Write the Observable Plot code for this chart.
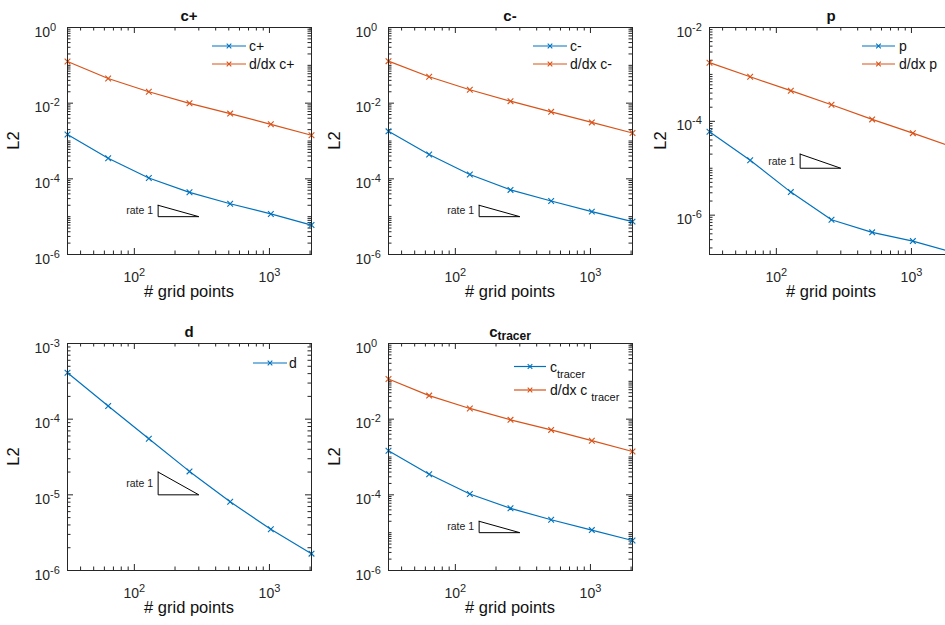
<!DOCTYPE html>
<html><head><meta charset="utf-8">
<script src="https://cdn.jsdelivr.net/npm/d3@7"></script>
<script src="https://cdn.jsdelivr.net/npm/@observablehq/plot@0.6"></script>
<style>
html,body{margin:0;padding:0;background:#fff;overflow:hidden;}
#fig{position:relative;width:945px;height:625px;overflow:hidden;background:#fff;}
#fig svg{position:absolute;}
</style></head><body><div id="fig"></div>
<script>
// ---- data ----
const gridPoints = [32, 64, 128, 256, 512, 1024, 2048];

const cPlusErr     = [1.48e-3, 3.5e-4, 1.05e-4, 4.4e-5, 2.2e-5, 1.18e-5, 6.0e-6];
const cPlusDxErr   = [0.126, 0.045, 0.020, 0.0099, 0.0053, 0.00276, 0.00142];
const cMinusErr    = [1.8e-3, 4.4e-4, 1.3e-4, 5.1e-5, 2.6e-5, 1.36e-5, 7.4e-6];
const cMinusDxErr  = [0.129, 0.050, 0.0226, 0.0113, 0.0059, 0.0031, 0.00163];
const pErr         = [6.0e-5, 1.48e-5, 3.1e-6, 8.0e-7, 4.3e-7, 2.8e-7, 1.6e-7];
const pDxErr       = [1.78e-3, 8.9e-4, 4.5e-4, 2.26e-4, 1.1e-4, 5.6e-5, 2.8e-5];
const dErr         = [4.1e-4, 1.49e-4, 5.5e-5, 2.04e-5, 8.1e-6, 3.5e-6, 1.67e-6];
const cTracerErr   = [1.47e-3, 3.5e-4, 1.05e-4, 4.4e-5, 2.2e-5, 1.17e-5, 6.2e-6];
const cTracerDxErr = [0.115, 0.042, 0.0192, 0.0096, 0.0052, 0.0027, 0.0014];

// rate-1 reference triangle (closed path)
const rateX = [150, 300, 150, 150];
const rateY = [2e-5, 1e-5, 1e-5, 2e-5];
const rateLabel = "rate 1";

// ticks
const xMajorTicks = [100, 1000];
const xMinorTicks = [40, 50, 60, 70, 80, 90, 200, 300, 400, 500, 600, 700, 800, 900, 2000];
const yLabelsWide = [1, 1e-2, 1e-4, 1e-6];
const yLabelsP = [1e-2, 1e-4, 1e-6];
const yLabelsD = [1e-3, 1e-4, 1e-5, 1e-6];

const BLUE = "#0072BD", ORANGE = "#D95319", AX = "#262626";
const FONT = "'Liberation Sans', Arial, Helvetica, sans-serif";

const panels = [
  {title: ["c+"], left: 0, top: 0, yDomain: [1e-6, 1], yLabels: yLabelsWide, ylabOff: 48,
   series: [{label: ["c+"], values: cPlusErr, color: BLUE}, {label: ["d/dx c+"], values: cPlusDxErr, color: ORANGE}],
   legend: {x0: 145, x1: 179, tx: 182, ys: [19, 37]}},
  {title: ["c-"], left: 321, top: 0, yDomain: [1e-6, 1], yLabels: yLabelsWide, ylabOff: 48,
   series: [{label: ["c-"], values: cMinusErr, color: BLUE}, {label: ["d/dx c-"], values: cMinusDxErr, color: ORANGE}],
   legend: {x0: 145, x1: 179, tx: 182, ys: [19, 37]}},
  {title: ["p"], left: 642, top: 0, yDomain: [1.45e-7, 1e-2], yLabels: yLabelsP, ylabOff: 43,
   series: [{label: ["p"], values: pErr, color: BLUE}, {label: ["d/dx p"], values: pDxErr, color: ORANGE}],
   legend: {x0: 153, x1: 186, tx: 190, ys: [19, 37]}},
  {title: ["d"], left: 0, top: 316, yDomain: [1e-6, 1e-3], yLabels: yLabelsD, ylabOff: 48,
   series: [{label: ["d"], values: dErr, color: BLUE}],
   legend: {x0: 186, x1: 220, tx: 222, ys: [20]}},
  {title: ["c", "tracer"], left: 321, top: 316, yDomain: [1e-6, 1], yLabels: yLabelsWide, ylabOff: 48,
   series: [{label: ["c", "tracer"], values: cTracerErr, color: BLUE}, {label: ["d/dx c ", "tracer"], values: cTracerDxErr, color: ORANGE}],
   legend: {x0: 126, x1: 158, tx: 162, ys: [23.5, 47]}}
];

const ML = 67, MT = 27, MR = 14, MB = 55, FW = 244, FH = 227;
const fig = document.getElementById("fig");

function sup(d) { return "10^" + Math.round(Math.log10(d)); }

for (const pn of panels) {
  const rows = [];
  pn.series.forEach((s, si) => gridPoints.forEach((g, i) => rows.push({x: g, y: s.values[i], s: si, color: s.color})));
  const allYTicks = d3.scaleLog().domain(pn.yDomain).ticks();
  const yMajor = pn.yLabels;
  const yMinor = allYTicks.filter(t => !yMajor.some(m => Math.abs(m - t) / m < 1e-9));
  const tri = rateX.map((x, i) => ({x, y: rateY[i]}));

  const marks = [
    // ticks (inward, on all four sides)
    Plot.tickX(xMajorTicks, {x: d => d, insetTop: FH - 6, stroke: AX}),
    Plot.tickX(xMajorTicks, {x: d => d, insetBottom: FH - 6, stroke: AX}),
    Plot.tickX(xMinorTicks, {x: d => d, insetTop: FH - 3.5, stroke: AX}),
    Plot.tickX(xMinorTicks, {x: d => d, insetBottom: FH - 3.5, stroke: AX}),
    Plot.tickY(yMajor, {y: d => d, insetRight: FW - 6, stroke: AX}),
    Plot.tickY(yMajor, {y: d => d, insetLeft: FW - 6, stroke: AX}),
    Plot.tickY(yMinor, {y: d => d, insetRight: FW - 3.5, stroke: AX}),
    Plot.tickY(yMinor, {y: d => d, insetLeft: FW - 3.5, stroke: AX}),
    // tick labels
    Plot.text(xMajorTicks, {x: d => d, frameAnchor: "bottom", dy: 27, lineAnchor: "bottom", textAnchor: "middle", text: sup, fontSize: 14, fill: AX}),
    Plot.text(yMajor, {y: d => d, frameAnchor: "left", dx: -33, dy: 9, lineAnchor: "bottom", textAnchor: "start", text: sup, fontSize: 14, fill: AX}),
    // rate triangle
    Plot.line(tri, {x: "x", y: "y", stroke: "black", strokeWidth: 1}),
    Plot.text([rateLabel], {x: rateX[0], y: Math.sqrt(rateY[0] * rateY[1]), text: d => d, textAnchor: "end", dx: -5, fontSize: 10.5, fill: "#222"}),
    // data
    Plot.line(rows, {x: "x", y: "y", z: "s", stroke: "color", strokeWidth: 1.2}),
    Plot.dot(rows, {x: "x", y: "y", symbol: "times", r: 2.7, stroke: "color", strokeWidth: 1.1}),
    Plot.frame({stroke: AX, strokeWidth: 1})
  ];

  const svg = Plot.plot({
    width: ML + FW + MR, height: MT + FH + MB,
    marginLeft: ML, marginTop: MT, marginRight: MR, marginBottom: MB,
    x: {type: "log", domain: [32, 2048], axis: null},
    y: {type: "log", domain: pn.yDomain, axis: null},
    color: {type: "identity"},
    style: {fontFamily: FONT, fontSize: "14px", background: "transparent", overflow: "visible"},
    marks
  });
  svg.style.left = pn.left + "px";
  svg.style.top = pn.top + "px";
  fig.appendChild(svg);

  const S = d3.select(svg);
  // superscript exponents
  S.selectAll("text").each(function () {
    const m = this.textContent.match(/^10\^(-?\d+)$/);
    if (m) {
      this.textContent = "10";
      d3.select(this).append("tspan").attr("dy", -6).attr("font-size", 11).text(m[1]);
    }
  });

  const g = S.append("g").attr("font-family", FONT).attr("fill", "#111").attr("text-anchor", "start");
  // title
  const tt = g.append("text").attr("x", ML + FW / 2).attr("y", MT - 6.5)
    .attr("text-anchor", "middle").attr("font-weight", "bold").attr("font-size", 15).text(pn.title[0]);
  if (pn.title[1]) tt.append("tspan").attr("dy", 3).attr("font-size", 12).text(pn.title[1]);
  // axis labels
  g.append("text").attr("x", ML + FW / 2).attr("y", MT + FH + 43).attr("text-anchor", "middle")
    .attr("font-size", 16.5).text("# grid points");
  g.append("text").attr("transform", `translate(${ML - pn.ylabOff},${MT + FH / 2}) rotate(-90)`)
    .attr("text-anchor", "middle").attr("font-size", 16.5).text("L2");
  // legend
  const L = pn.legend;
  pn.series.forEach((s, i) => {
    const y = MT + L.ys[i];
    const lx0 = ML + L.x0, lx1 = ML + L.x1, mx = (lx0 + lx1) / 2;
    g.append("line").attr("x1", lx0).attr("x2", lx1).attr("y1", y).attr("y2", y)
      .attr("stroke", s.color).attr("stroke-width", 1.2);
    g.append("path").attr("d", `M${mx - 2.3},${y - 2.3}L${mx + 2.3},${y + 2.3}M${mx - 2.3},${y + 2.3}L${mx + 2.3},${y - 2.3}`)
      .attr("stroke", s.color).attr("stroke-width", 1.1).attr("fill", "none");
    const t = g.append("text").attr("x", ML + L.tx).attr("y", y + 5).attr("text-anchor", "start").attr("font-size", 14).text(s.label[0]);
    if (s.label[1]) t.append("tspan").attr("dy", 6).attr("font-size", 11).text(s.label[1]);
  });
}
</script></body></html>
